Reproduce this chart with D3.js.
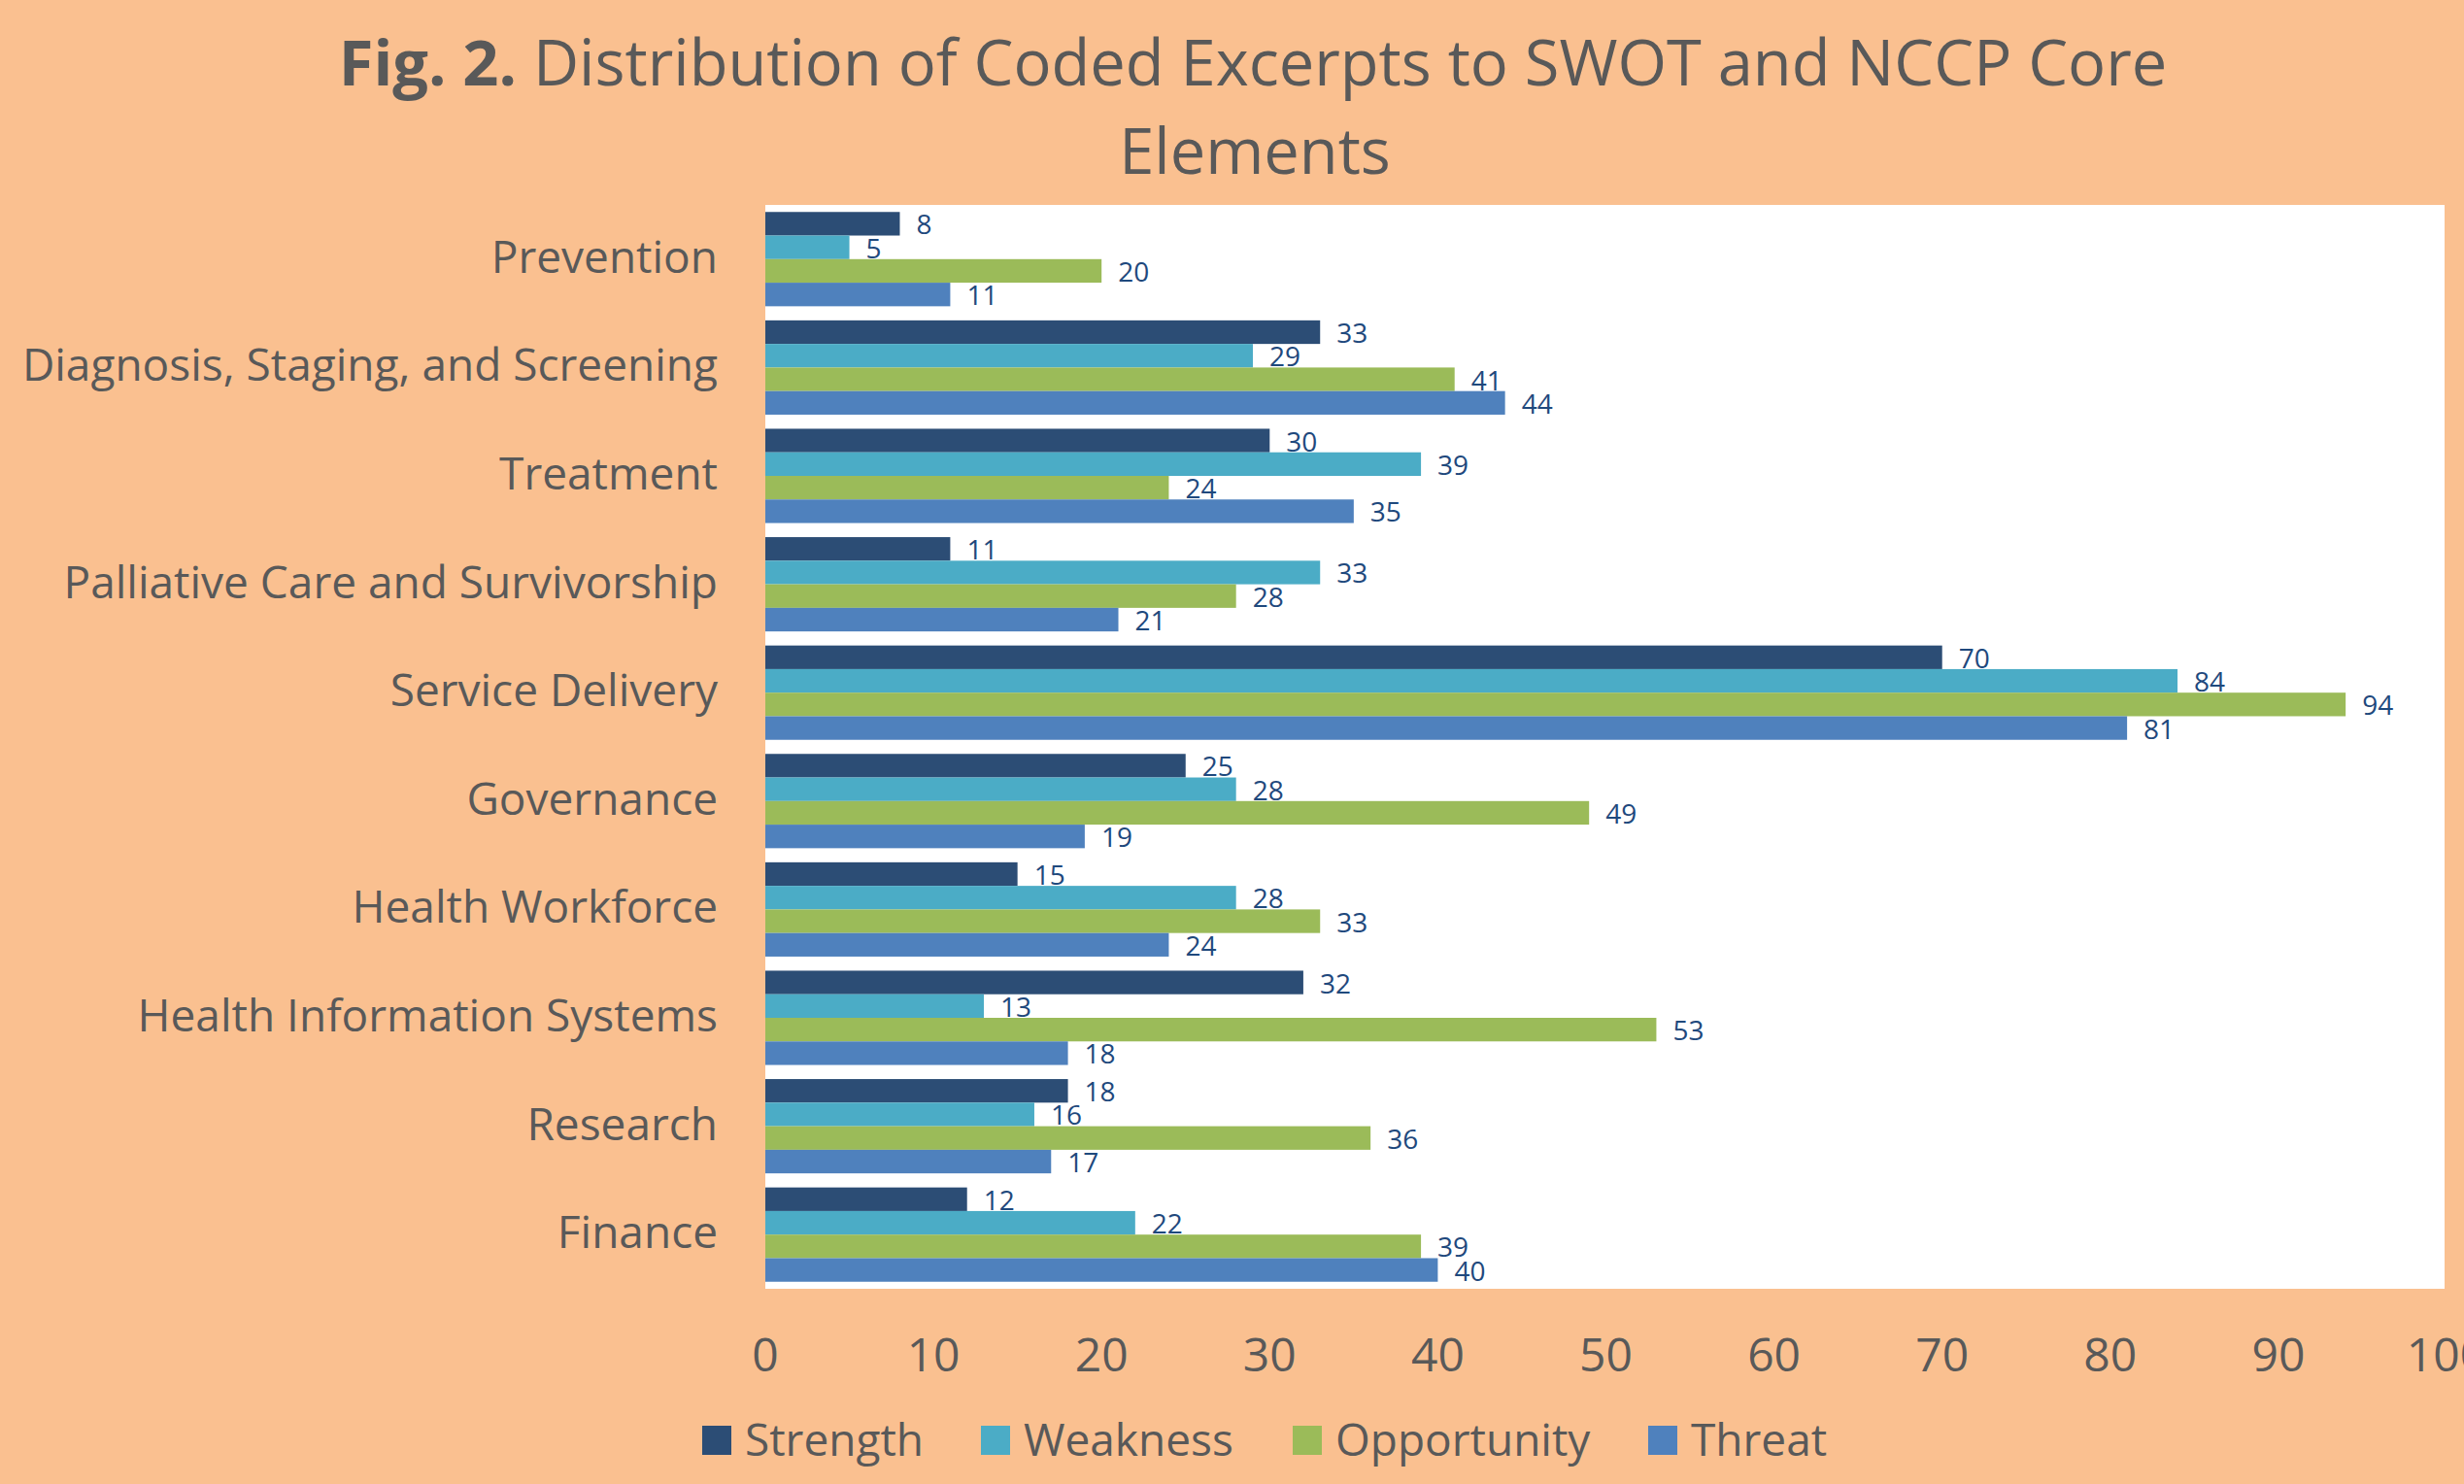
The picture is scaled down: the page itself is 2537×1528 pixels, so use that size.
<!DOCTYPE html>
<html lang="en">
  <head>
    <meta charset="UTF-8" />
    <title>Fig. 2 - SWOT and NCCP Core Elements</title>
    <script src="https://d3js.org/d3.v7.min.js"></script>
    <style>
      html,
      body {
        margin: 0;
        padding: 0;
        background: #fac090;
        font-family: "Open Sans", sans-serif;
      }
      .title {
        font-size: 65px;
        fill: #595959;
      }
      .cat_label {
        font-size: 46px;
        fill: #595959;
      }
      .tick_label {
        font-size: 48px;
        fill: #595959;
      }
      .legend_label {
        font-size: 46px;
        fill: #595959;
      }
      .value_label {
        font-size: 28px;
        fill: #1f497d;
      }
    </style>
  </head>
  <body>
    <svg id="chart" width="2537" height="1528"></svg>
    <script>
      // categories, top to bottom
      let categories = [
        "Prevention",
        "Diagnosis, Staging, and Screening",
        "Treatment",
        "Palliative Care and Survivorship",
        "Service Delivery",
        "Governance",
        "Health Workforce",
        "Health Information Systems",
        "Research",
        "Finance",
      ];
      let series_names = ["Strength", "Weakness", "Opportunity", "Threat"];
      let series_colors = ["#2c4d75", "#4bacc6", "#9bbb59", "#4f81bd"];

      let strength = [8, 33, 30, 11, 70, 25, 15, 32, 18, 12];
      let weakness = [5, 29, 39, 33, 84, 28, 28, 13, 16, 22];
      let opportunity = [20, 41, 24, 28, 94, 49, 33, 53, 36, 39];
      let threat = [11, 44, 35, 21, 81, 19, 24, 18, 17, 40];

      let x_ticks = [0, 10, 20, 30, 40, 50, 60, 70, 80, 90, 100];

      let series_values = [strength, weakness, opportunity, threat];

      let width = 2537;
      let height = 1528;
      let plot = { left: 788, right: 2519, top: 211, bottom: 1327 };

      let svg = d3.select("#chart");

      // title
      let title = svg
        .append("text")
        .attr("class", "title")
        .attr("x", 1290)
        .attr("y", 88)
        .attr("text-anchor", "middle");
      title.append("tspan").attr("font-weight", "bold").text("Fig. 2.");
      title
        .append("tspan")
        .text(" Distribution of Coded Excerpts to SWOT and NCCP Core");
      svg
        .append("text")
        .attr("class", "title")
        .attr("x", 1292)
        .attr("y", 179)
        .attr("text-anchor", "middle")
        .text("Elements");

      // plot area
      svg
        .append("rect")
        .attr("x", plot.left)
        .attr("y", plot.top)
        .attr("width", 2517 - plot.left)
        .attr("height", plot.bottom - plot.top)
        .attr("fill", "#ffffff");

      let x = d3.scaleLinear().domain([0, 100]).range([plot.left, plot.right]);

      let y = d3
        .scaleBand()
        .domain(categories)
        .range([plot.top, plot.bottom])
        .paddingInner(0.13)
        .paddingOuter(0.065);

      let y_inner = d3
        .scaleBand()
        .domain(series_names)
        .range([0, y.bandwidth()]);

      // bars
      let rows = [];
      categories.forEach(function (c, i) {
        series_names.forEach(function (s, j) {
          rows.push({ cat: c, series: s, idx: j, value: series_values[j][i] });
        });
      });

      let bars = svg.append("g").attr("class", "bars");
      bars
        .selectAll("rect")
        .data(rows)
        .enter()
        .append("rect")
        .attr("x", x(0))
        .attr("y", (d) => y(d.cat) + y_inner(d.series))
        .attr("width", (d) => x(d.value) - x(0))
        .attr("height", y_inner.bandwidth())
        .attr("fill", (d) => series_colors[d.idx]);

      bars
        .selectAll("text")
        .data(rows)
        .enter()
        .append("text")
        .attr("class", "value_label")
        .attr("x", (d) => x(d.value) + 17)
        .attr("y", (d) => y(d.cat) + y_inner(d.series) + y_inner.bandwidth() / 2)
        .attr("dominant-baseline", "central")
        .text((d) => d.value);

      // category labels
      svg
        .append("g")
        .selectAll("text")
        .data(categories)
        .enter()
        .append("text")
        .attr("class", "cat_label")
        .attr("x", 739)
        .attr("y", (d) => y(d) + y.bandwidth() / 2 - 4)
        .attr("text-anchor", "end")
        .attr("dominant-baseline", "central")
        .text((d) => d);

      // x tick labels
      svg
        .append("g")
        .selectAll("text")
        .data(x_ticks)
        .enter()
        .append("text")
        .attr("class", "tick_label")
        .attr("x", (d) => x(d))
        .attr("y", 1412)
        .attr("text-anchor", "middle")
        .text((d) => d);

      // legend
      let legend_x = [723, 1010, 1331, 1697];
      let legend = svg
        .append("g")
        .selectAll("g")
        .data(series_names)
        .enter()
        .append("g")
        .attr("transform", (d, i) => `translate(${legend_x[i]},1468)`);
      legend
        .append("rect")
        .attr("width", 30)
        .attr("height", 30)
        .attr("fill", (d, i) => series_colors[i]);
      legend
        .append("text")
        .attr("class", "legend_label")
        .attr("x", 44)
        .attr("y", 31)
        .text((d) => d);
    </script>
  </body>
</html>
